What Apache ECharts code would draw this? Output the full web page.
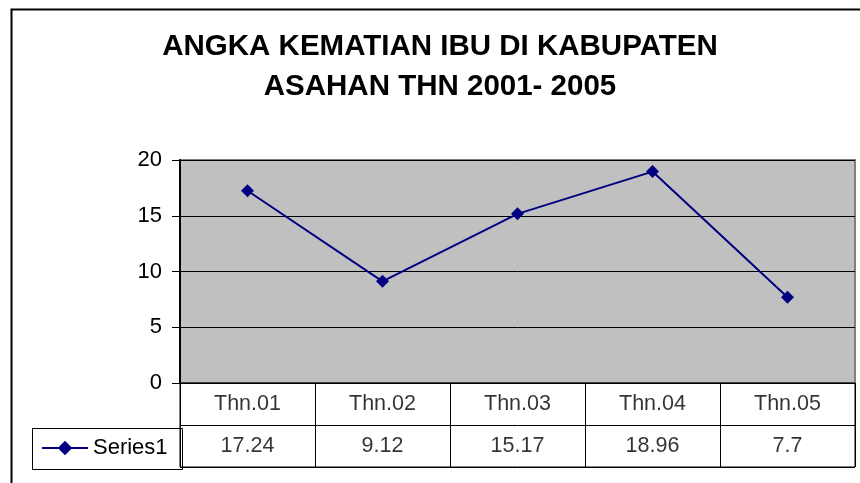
<!DOCTYPE html>
<html>
<head>
<meta charset="utf-8">
<script src="https://cdn.jsdelivr.net/npm/echarts@6/dist/echarts.min.js"></script>
<style>
  html, body { margin: 0; padding: 0; background: #fff; }
  #chart { width: 860px; height: 483px; }
</style>
</head>
<body>
<div id="chart"></div>
<script>
// data
const categories = ["Thn.01", "Thn.02", "Thn.03", "Thn.04", "Thn.05"];
const seriesName = "Series1";
const values = [17.24, 9.12, 15.17, 18.96, 7.7];
const yTicks = { min: 0, max: 20, interval: 5 };
const tableRows = ["value", "header"];

const font = "Liberation Sans, Arial, sans-serif";
const navy = "#000080";

const chart = echarts.init(document.getElementById("chart"), null, { renderer: "canvas" });

const option = {
  backgroundColor: "#ffffff",
  animation: false,
  title: {
    text: "ANGKA KEMATIAN IBU DI KABUPATEN\nASAHAN THN 2001- 2005",
    left: 435,
    top: 22,
    textAlign: "center",
    textStyle: {
      fontFamily: font,
      fontSize: 29.5,
      fontWeight: "bold",
      color: "#000",
      lineHeight: 40,
    },
  },
  legend: {
    data: [seriesName],
    left: 36,
    top: 432,
    itemWidth: 46,
    itemHeight: 18,
    itemGap: 6,
    textStyle: { fontFamily: font, fontSize: 22, color: "#000" },
  },
  grid: [
    // plot area
    {
      left: 180, top: 160, width: 675, height: 223,
      show: true, backgroundColor: "#c0c0c0", borderColor: "#808080", borderWidth: 2,
    },
    // data table
    {
      left: 180, top: 383, width: 675, height: 84,
      show: true, backgroundColor: "transparent", borderColor: "#000", borderWidth: 1,
    },
  ],
  xAxis: [
    {
      type: "category", gridIndex: 0, data: categories, boundaryGap: true,
      axisLine: { show: false }, axisTick: { show: false }, axisLabel: { show: false },
    },
    {
      type: "category", gridIndex: 1, data: categories, boundaryGap: true,
      axisLine: { show: false }, axisTick: { show: false }, axisLabel: { show: false },
      splitLine: { show: true, lineStyle: { color: "#000", width: 1 } },
    },
  ],
  yAxis: [
    {
      type: "value", gridIndex: 0, min: yTicks.min, max: yTicks.max, interval: yTicks.interval,
      axisLine: { show: true, lineStyle: { color: "#000", width: 2 } },
      axisTick: { show: true, length: 8, lineStyle: { color: "#000", width: 1 } },
      axisLabel: { margin: 18, fontFamily: font, fontSize: 22, color: "#000" },
      splitLine: { show: true, lineStyle: { color: "#000", width: 1 } },
    },
    {
      type: "category", gridIndex: 1, data: tableRows, boundaryGap: true,
      axisLine: { show: true, lineStyle: { color: "#000", width: 1 } },
      axisTick: { show: false }, axisLabel: { show: false },
      splitLine: { show: true, lineStyle: { color: "#000", width: 1 } },
    },
  ],
  series: [
    {
      name: seriesName,
      type: "line",
      xAxisIndex: 0,
      yAxisIndex: 0,
      data: values,
      symbol: "diamond",
      symbolSize: 13,
      lineStyle: { color: navy, width: 2 },
      itemStyle: { color: navy },
    },
    // table header cells: category names
    {
      type: "scatter",
      xAxisIndex: 1,
      yAxisIndex: 1,
      symbolSize: 0,
      silent: true,
      data: categories.map((c) => [c, "header"]),
      label: {
        show: true, position: "inside", formatter: (p) => p.value[0],
        fontFamily: font, fontSize: 21.5, color: "#000",
      },
    },
    // table value cells
    {
      type: "scatter",
      xAxisIndex: 1,
      yAxisIndex: 1,
      symbolSize: 0,
      silent: true,
      data: categories.map((c, i) => [c, "value", values[i]]),
      label: {
        show: true, position: "inside", formatter: (p) => String(p.value[2]),
        fontFamily: font, fontSize: 21.5, color: "#000",
      },
    },
  ],
  graphic: [
    // outer chart frame
    {
      type: "rect", left: 9, top: 7, z: -1,
      shape: { width: 900, height: 520 },
      style: { fill: "none", stroke: "#000", lineWidth: 2 },
    },
    // legend key cell
    {
      type: "rect", left: 30, top: 426,
      shape: { width: 150, height: 41 },
      style: { fill: "none", stroke: "#000", lineWidth: 1 },
    },
  ],
};

chart.setOption(option);
</script>
</body>
</html>
